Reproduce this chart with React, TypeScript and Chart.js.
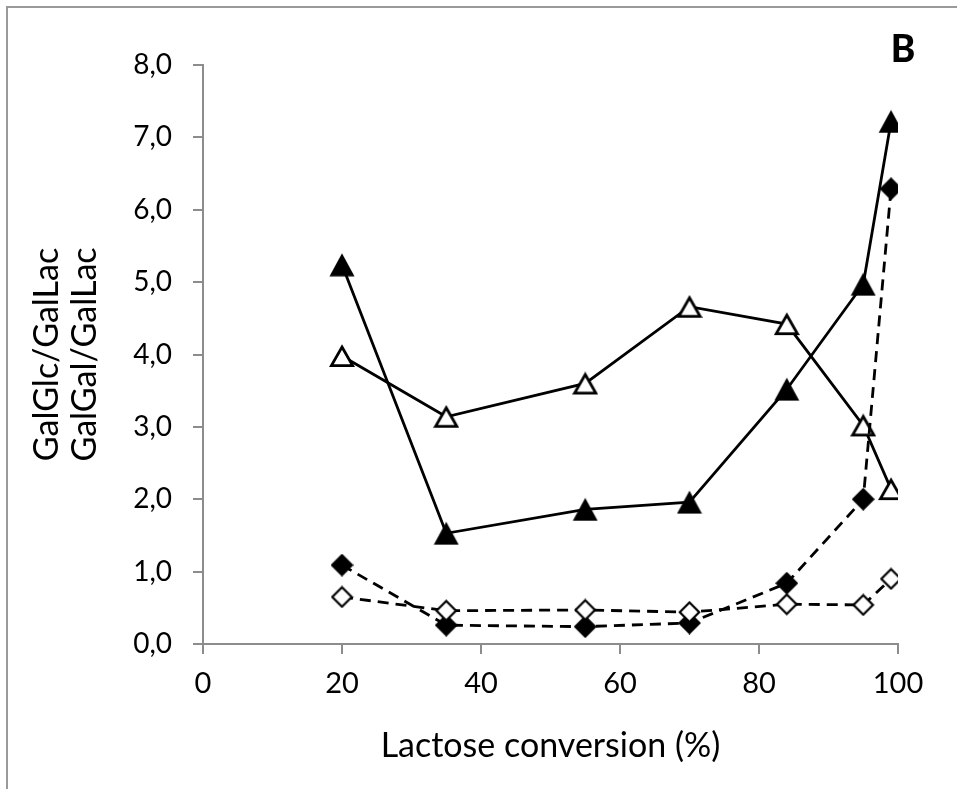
import React, { useEffect, useRef } from "react";
import { Chart, registerables } from "chart.js";

Chart.register(...registerables);

// ---- data ----
const conversion = [20, 35, 55, 70, 84, 95, 99];
const filledTriangleSeries = [5.24, 1.53, 1.86, 1.96, 3.52, 4.97, 7.22];
const openTriangleSeries = [3.98, 3.14, 3.6, 4.66, 4.42, 3.02, 2.14];
const filledDiamondSeries = [1.09, 0.26, 0.24, 0.29, 0.84, 2.0, 6.29];
const openDiamondSeries = [0.65, 0.46, 0.47, 0.44, 0.55, 0.54, 0.9];

const xTickValues = [0, 20, 40, 60, 80, 100];
const yTickLabels = ["0,0", "1,0", "2,0", "3,0", "4,0", "5,0", "6,0", "7,0", "8,0"];
const xAxisTitle = "Lactose conversion (%)";
const yAxisTitle = ["GalGlc/GalLac", "GalGal/GalLac"];
const panelLabel = "B";

const FONT = "Lato, 'Open Sans', sans-serif";
const AXIS_GREY = "#8c8c8c";

function makeMarker(kind: string): HTMLCanvasElement {
  const c = document.createElement("canvas");
  const ctx = c.getContext("2d")!;
  if (kind === "triFilled" || kind === "triOpen") {
    c.width = 26;
    c.height = 24;
    ctx.beginPath();
    if (kind === "triFilled") {
      ctx.moveTo(13, 0.5);
      ctx.lineTo(25.5, 23.5);
      ctx.lineTo(0.5, 23.5);
      ctx.closePath();
      ctx.fillStyle = "#000";
      ctx.fill();
    } else {
      ctx.moveTo(13, 3);
      ctx.lineTo(23.6, 21.6);
      ctx.lineTo(2.4, 21.6);
      ctx.closePath();
      ctx.fillStyle = "#fff";
      ctx.fill();
      ctx.lineWidth = 2.8;
      ctx.lineJoin = "miter";
      ctx.strokeStyle = "#000";
      ctx.stroke();
    }
  } else {
    c.width = 23;
    c.height = 23;
    ctx.beginPath();
    if (kind === "diaFilled") {
      ctx.moveTo(11.5, 0);
      ctx.lineTo(23, 11.5);
      ctx.lineTo(11.5, 23);
      ctx.lineTo(0, 11.5);
      ctx.closePath();
      ctx.fillStyle = "#000";
      ctx.fill();
    } else {
      ctx.moveTo(11.5, 1.8);
      ctx.lineTo(21.2, 11.5);
      ctx.lineTo(11.5, 21.2);
      ctx.lineTo(1.8, 11.5);
      ctx.closePath();
      ctx.fillStyle = "#fff";
      ctx.fill();
      ctx.lineWidth = 2.2;
      ctx.strokeStyle = "#000";
      ctx.stroke();
    }
  }
  return c;
}

const decorPlugin = {
  id: "decor",
  beforeDraw(chart: any) {
    const ctx = chart.ctx;
    ctx.save();
    ctx.fillStyle = "#fff";
    ctx.fillRect(0, 0, chart.width, chart.height);
    ctx.strokeStyle = "#9a9a9a";
    ctx.lineWidth = 2;
    ctx.beginPath();
    ctx.moveTo(7, chart.height);
    ctx.lineTo(7, 7);
    ctx.lineTo(chart.width, 7);
    ctx.stroke();
    ctx.restore();
  },
  afterDraw(chart: any) {
    const ctx = chart.ctx;
    ctx.save();
    ctx.fillStyle = "#000";
    ctx.font = `900 37px ${FONT}`;
    ctx.textAlign = "center";
    ctx.textBaseline = "middle";
    ctx.fillText(panelLabel, 903, 50);
    ctx.restore();
  },
};

export default function App() {
  const ref = useRef<HTMLCanvasElement | null>(null);

  useEffect(() => {
    if (!ref.current) return;
    const toPts = (ys: number[]) => conversion.map((x, i) => ({ x, y: ys[i] }));
    const common = {
      borderColor: "#000",
      borderWidth: 2.8,
      tension: 0,
      pointRadius: 12,
      pointHoverRadius: 12,
      fill: false,
    };
    const chart = new Chart(ref.current, {
      type: "line",
      data: {
        datasets: [
          {
            ...common,
            label: "open diamonds",
            data: toPts(openDiamondSeries),
            borderDash: [11, 7],
            pointStyle: makeMarker("diaOpen"),
          },
          {
            ...common,
            label: "filled diamonds",
            data: toPts(filledDiamondSeries),
            borderDash: [11, 7],
            pointStyle: makeMarker("diaFilled"),
          },
          {
            ...common,
            label: "open triangles",
            data: toPts(openTriangleSeries),
            pointStyle: makeMarker("triOpen"),
          },
          {
            ...common,
            label: "filled triangles",
            data: toPts(filledTriangleSeries),
            pointStyle: makeMarker("triFilled"),
          },
        ] as any,
      },
      options: {
        responsive: false,
        animation: false,
        events: [],
        layout: { padding: { left: 0, top: 65, right: 59, bottom: 0 } },
        plugins: {
          legend: { display: false },
          tooltip: { enabled: false },
          title: { display: false },
        },
        scales: {
          x: {
            type: "linear",
            min: 0,
            max: 100,
            afterBuildTicks: (s: any) => {
              s.ticks = xTickValues.map((v) => ({ value: v }));
            },
            ticks: {
              color: "#000",
              font: { family: FONT, size: 29 },
              padding: 12,
              maxRotation: 0,
              callback: (v: any) => String(v),
            },
            grid: {
              drawOnChartArea: false,
              drawTicks: true,
              tickLength: 10,
              color: AXIS_GREY,
              lineWidth: 2,
            },
            border: { display: true, color: AXIS_GREY, width: 2 },
            title: {
              display: true,
              text: xAxisTitle,
              color: "#000",
              font: { family: FONT, size: 34, lineHeight: 1.2 },
              padding: { top: 0, bottom: 23 },
            },
            afterFit: (s: any) => {
              s.height = 145;
            },
          },
          y: {
            type: "linear",
            min: 0,
            max: 8,
            afterBuildTicks: (s: any) => {
              s.ticks = yTickLabels.map((_, i) => ({ value: i }));
            },
            ticks: {
              color: "#000",
              font: { family: FONT, size: 28 },
              padding: 21,
              callback: (v: any) => yTickLabels[Math.round(Number(v))] ?? "",
            },
            grid: {
              drawOnChartArea: false,
              drawTicks: true,
              tickLength: 10,
              color: AXIS_GREY,
              lineWidth: 2,
            },
            border: { display: true, color: AXIS_GREY, width: 2 },
            title: {
              display: true,
              text: yAxisTitle,
              color: "#000",
              font: { family: FONT, size: 34, lineHeight: 1.12 },
              padding: { top: 28, bottom: 0 },
            },
            afterFit: (s: any) => {
              s.width = 203;
            },
          },
        },
      } as any,
      plugins: [decorPlugin],
    });
    return () => chart.destroy();
  }, []);

  return (
    <div style={{ position: "absolute", left: 0, top: 0, width: 957, height: 789, background: "#fff" }}>
      <canvas ref={ref} width={957} height={789} style={{ display: "block" }} />
    </div>
  );
}
